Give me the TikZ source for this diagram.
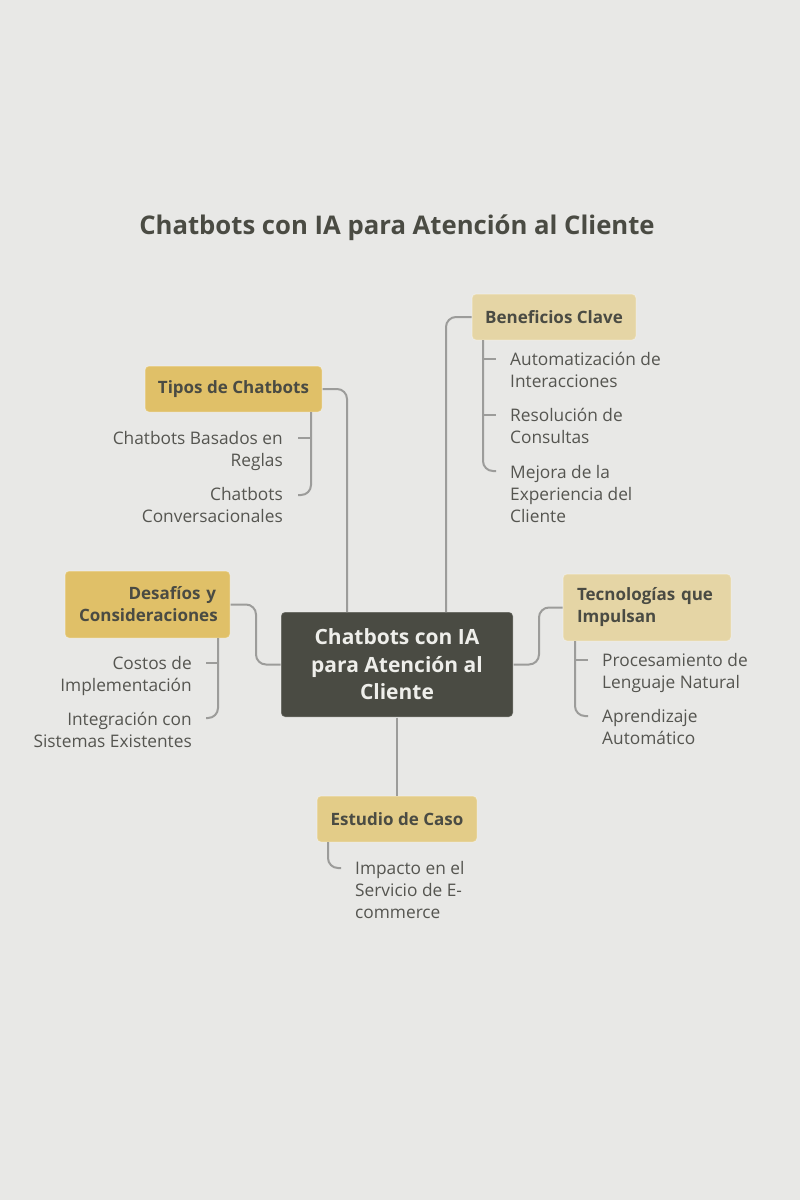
\documentclass[tikz,border=0pt]{standalone}
\usepackage{fontspec}
\setmainfont{Open Sans}
\usetikzlibrary{calc}
\definecolor{bg}{HTML}{E8E8E6}
\definecolor{ink}{HTML}{4A4B43}
\definecolor{sub}{HTML}{555550}
\definecolor{lnc}{HTML}{9C9C9A}
\definecolor{gold}{HTML}{E0C068}
\definecolor{pale}{HTML}{E5D5A5}
\definecolor{mid}{HTML}{E3CC88}
\definecolor{ctxt}{HTML}{EEEEEA}
\tikzset{
  conn/.style={draw=lnc, line width=2pt, rounded corners=10pt},
  topic/.style={rounded corners=4pt, draw=white, draw opacity=0.35, line width=1pt, inner sep=0pt, font=\fontsize{17}{22}\selectfont\bfseries, text=ink},
  leaf/.style={inner sep=0pt, font=\fontsize{17.3}{22}\selectfont, text=sub},
}
\begin{document}
\begin{tikzpicture}[x=1pt,y=-1pt]
\fill[bg] (0,0) rectangle (800,1200);
\useasboundingbox (0,0) rectangle (800,1200);

\node[font=\fontsize{25.7}{30}\selectfont\bfseries, text=ink] (title) at (397,228) {Chatbots con IA para Atención al Cliente};

% center
\node[fill=ink, rounded corners=4pt, draw=white, draw opacity=0.3, line width=1pt, minimum width=232pt, minimum height=105pt, inner sep=0pt, text=ctxt, align=center, font=\fontsize{21}{27.5}\selectfont\bfseries] (center) at (397,664.5) {Chatbots con IA\\para Atención al\\Cliente};

% topics
\node[topic, fill=gold, minimum width=177pt, minimum height=46pt] (tipos) at (233.5,389) {Tipos de Chatbots};
\node[topic, fill=pale, minimum width=164pt, minimum height=46pt] (benef) at (554,317) {Beneficios Clave};
\node[topic, fill=gold, minimum width=165pt, minimum height=67pt, text width=137pt, inner xsep=14pt, align=right] (desaf) at (147.5,604.5) {Desafíos y\\Consideraciones};
\node[topic, fill=pale, minimum width=168pt, minimum height=67pt, text width=140pt, inner xsep=14pt, align=left] (tecno) at (647,607.5) {Tecnologías que\\Impulsan};

\node[topic, fill=mid, minimum width=160pt, minimum height=46pt] (caso) at (397,819) {Estudio de Caso};

% main connectors
\coordinate (t1) at (347,612);
\draw[conn] (tipos.east) -| (t1);
\coordinate (b1) at (446,612);
\draw[conn] (benef.west) -| (b1);
\coordinate (d1) at (256,640);
\draw[conn] (desaf.east) -| (d1) |- (center.west);
\coordinate (c1) at (539,630);
\draw[conn] (center.east) -| (c1) |- (tecno.west);
\draw[conn] (center.south) -- (caso.north);

% Tipos children
\node[leaf, anchor=north east, align=right] (t_a) at (283,431) {Chatbots Basados en\\Reglas};
\node[leaf, anchor=north east, align=right] (t_b) at (283,487) {Chatbots\\Conversacionales};
\draw[conn] (311,412) |- (298,495);
\draw[conn] (298,438) -- (311,438);

% Beneficios children
\node[leaf, anchor=north west, align=left] (b_a) at (510,352) {Automatización de\\Interacciones};
\node[leaf, anchor=north west, align=left] (b_b) at (510,408) {Resolución de\\Consultas};
\node[leaf, anchor=north west, align=left] (b_c) at (510,465) {Mejora de la\\Experiencia del\\Cliente};
\draw[conn] (483,340) |- (496,471);
\draw[conn] (483,359) -- (496,359);
\draw[conn] (483,415) -- (496,415);

% Desafios children
\node[leaf, anchor=north east, align=right] (d_a) at (192,656) {Costos de\\Implementación};
\node[leaf, anchor=north east, align=right] (d_b) at (192,712) {Integración con\\Sistemas Existentes};
\draw[conn] (218,638) |- (206,718);
\draw[conn] (206,663) -- (218,663);

% Tecnologias children
\node[leaf, anchor=north west, align=left] (c_a) at (602,653) {Procesamiento de\\Lenguaje Natural};
\node[leaf, anchor=north west, align=left] (c_b) at (602,709) {Aprendizaje\\Automático};
\draw[conn] (575,641) |- (588,716);
\draw[conn] (575,660) -- (588,660);

% Caso child
\node[leaf, anchor=north west, align=left] (e_a) at (355,861) {Impacto en el\\Servicio de E-\\commerce};
\draw[conn] (328,842) |- (341,868);
\end{tikzpicture}
\end{document}
